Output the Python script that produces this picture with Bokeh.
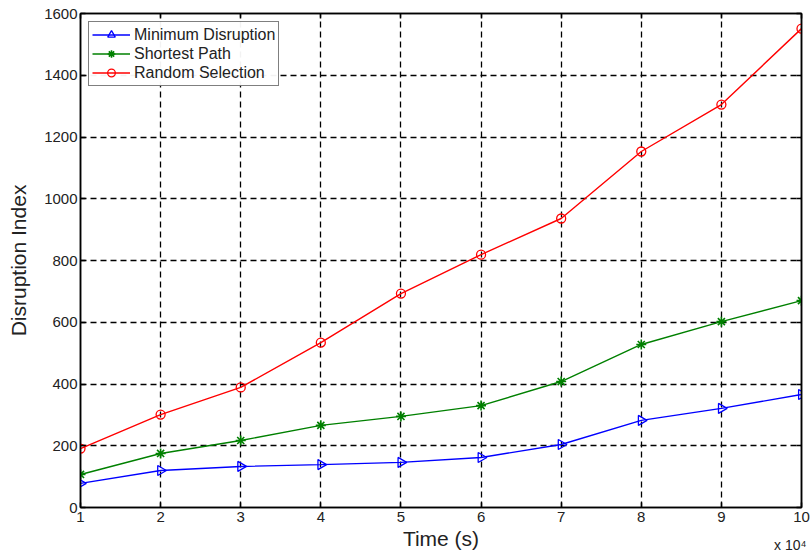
import math
from bokeh.plotting import figure
from bokeh.models import Range1d, FixedTicker, LinearAxis, Label, Legend, ColumnDataSource
from bokeh.embed import file_html
from bokeh.resources import INLINE

time_x = [1, 2, 3, 4, 5, 6, 7, 8, 9, 10]
min_disruption = [78, 120, 133, 139, 146, 162, 204, 282, 321, 366]
shortest_path = [107, 175, 217, 266, 295, 330, 408, 528, 602, 670]
random_selection = [191, 301, 389, 534, 693, 819, 936, 1153, 1305, 1551]
x_ticks = list(range(1, 11))
y_ticks = list(range(0, 1601, 200))

FONT = "Liberation Sans"

p = figure(output_backend="svg", toolbar_location=None,
           frame_width=721, frame_height=494,
           min_border_left=80, min_border_top=13, min_border_right=10, min_border_bottom=40,
           x_range=Range1d(1, 10), y_range=Range1d(0, 1600),
           background_fill_color="white", border_fill_color="white")

p.outline_line_color = "black"
p.outline_line_width = 1.5

for ax in (p.xaxis[0], p.yaxis[0]):
    ax.major_tick_in = 5
    ax.major_tick_out = 0
    ax.minor_tick_line_color = None
    ax.axis_line_width = 1.5
    ax.major_tick_line_width = 1.5
    ax.major_label_text_font = FONT
    ax.major_label_text_font_size = "15px"
    ax.major_label_text_color = "#222222"
    ax.axis_label_text_font = FONT
    ax.axis_label_text_font_size = "21px"
    ax.axis_label_text_font_style = "normal"
    ax.axis_label_text_color = "#222222"

p.xaxis.ticker = FixedTicker(ticks=x_ticks)
p.yaxis.ticker = FixedTicker(ticks=y_ticks)
p.xaxis.axis_label = "Time (s)"
p.yaxis.axis_label = "Disruption Index"
p.xaxis.major_label_standoff = 4
p.yaxis.major_label_standoff = 3
p.xaxis.axis_label_standoff = 2
p.yaxis.axis_label_standoff = 11

# top and right tick marks (boxed axes), labels hidden
top = LinearAxis(ticker=FixedTicker(ticks=x_ticks), major_tick_in=5, major_tick_out=0,
                 major_label_text_color=None, major_label_text_font_size="1px",
                 major_label_standoff=0, minor_tick_line_color=None,
                 axis_line_width=1.5, major_tick_line_width=1.5)
right = LinearAxis(ticker=FixedTicker(ticks=y_ticks), major_tick_in=5, major_tick_out=0,
                   major_label_text_color=None, major_label_text_font_size="1px",
                   major_label_standoff=0, minor_tick_line_color=None,
                   axis_line_width=1.5, major_tick_line_width=1.5)
p.add_layout(top, "above")
p.add_layout(right, "right")

p.xgrid.ticker = FixedTicker(ticks=x_ticks)
p.ygrid.ticker = FixedTicker(ticks=y_ticks)
for g in (p.xgrid[0], p.ygrid[0]):
    g.grid_line_color = "black"
    g.grid_line_dash = "6 4"
    g.grid_line_width = 1.3
    g.grid_line_alpha = 1.0

src_min = ColumnDataSource(dict(x=time_x, y=min_disruption,
                                ang=[-math.pi / 2] * len(time_x)))

l1 = p.line(time_x, min_disruption, line_color="blue", line_width=1.4)
m1 = p.scatter("x", "y", source=src_min, marker="triangle", angle="ang", size=10,
               line_color="blue", fill_color=None, line_width=1.3)
l2 = p.line(time_x, shortest_path, line_color="green", line_width=1.4)
m2 = p.scatter(time_x, shortest_path, marker="asterisk", size=10,
               line_color="green", line_width=1.6)
l3 = p.line(time_x, random_selection, line_color="red", line_width=1.4)
m3 = p.scatter(time_x, random_selection, marker="circle", size=9,
               line_color="red", fill_color=None, line_width=1.3)

legend = Legend(items=[("Minimum Disruption", [l1, m1]),
                       ("Shortest Path", [l2, m2]),
                       ("Random Selection", [l3, m3])],
                location="top_left")
legend.border_line_color = "black"
legend.border_line_width = 1.5
legend.label_text_font = FONT
legend.label_text_font_size = "16px"
legend.label_text_color = "#222222"
legend.glyph_width = 38
legend.glyph_height = 19
legend.label_height = 19
legend.spacing = 0
legend.padding = 3
legend.margin = 8
legend.label_standoff = 4
p.add_layout(legend, "center")

exp_label = Label(x=10, y=-123, text="x 10⁴", text_font=FONT, text_font_size="14px",
                  text_color="#222222", text_align="right", text_baseline="middle",
                  x_offset=5)
p.add_layout(exp_label, "below")

open("out.html", "w").write(file_html(p, INLINE))
